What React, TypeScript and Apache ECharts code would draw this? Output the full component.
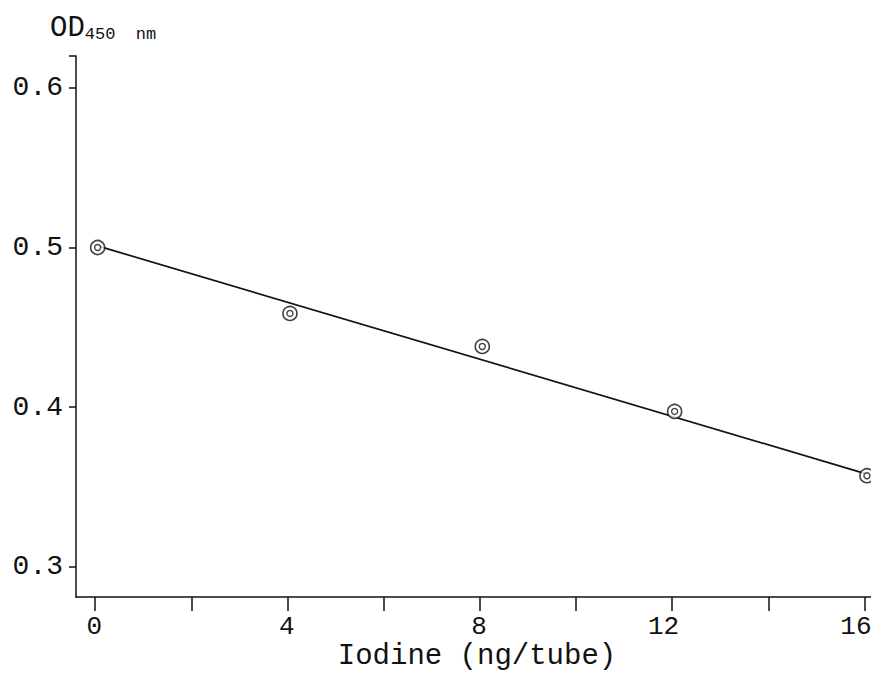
import React, { useEffect, useRef } from "react";
import * as echarts from "echarts";

const iodine = [0.05, 4.05, 8.05, 12.05, 16.05];
const od450 = [0.5, 0.4587, 0.438, 0.3973, 0.357];
const fitX = [0.05, 16.05];
const fitY = [0.501, 0.358];
const xTicks = [0, 2, 4, 6, 8, 10, 12, 14, 16];
const xLabels = [0, 4, 8, 12, 16];
const yTicks = [0.3, 0.4, 0.5, 0.6, 0.62];
const yLabels = [0.3, 0.4, 0.5, 0.6];

const FONT = "'Liberation Mono', 'Courier New', monospace";
const X_MIN = -0.4;
const X_MAX = 16.28;
// label axis shifted so right-aligned labels end ~7px right of their tick
const LABEL_SHIFT = 7 / (802 / (X_MAX - X_MIN));

export default function App() {
  const ref = useRef<HTMLDivElement>(null);
  useEffect(() => {
    if (!ref.current) return;
    const chart = echarts.init(ref.current, null, { renderer: "svg" });
    const pts = iodine.map((x, i) => [x, od450[i]]);
    chart.setOption({
      animation: false,
      backgroundColor: "#fff",
      grid: { left: 76, right: 1, top: 56, bottom: 81, outerBoundsMode: "none", containLabel: false },
      xAxis: [
        {
          type: "value",
          min: X_MIN,
          max: X_MAX,
          name: "Iodine (ng/tube)",
          nameLocation: "middle",
          nameGap: 45,
          nameTextStyle: { fontFamily: FONT, fontSize: 29, color: "#111" },
          axisLine: { show: true, onZero: false, lineStyle: { color: "#111", width: 1.5 } },
          axisTick: {
            show: true,
            customValues: xTicks,
            length: 14,
            lineStyle: { color: "#111", width: 1.5 },
          },
          axisLabel: { show: false },
          splitLine: { show: false },
        },
        {
          type: "value",
          position: "bottom",
          min: X_MIN - LABEL_SHIFT,
          max: X_MAX - LABEL_SHIFT,
          axisLine: { show: false, onZero: false },
          axisTick: { show: false },
          axisLabel: {
            customValues: xLabels,
            fontFamily: FONT,
            fontSize: 26,
            color: "#111",
            margin: 17,
            align: "right",
          },
          splitLine: { show: false },
        },
      ],
      yAxis: {
        type: "value",
        min: 0.281,
        max: 0.62,
        axisLine: { show: true, onZero: false, lineStyle: { color: "#111", width: 1.5 } },
        axisTick: {
          show: true,
          customValues: yTicks,
          length: 7,
          lineStyle: { color: "#111", width: 1.5 },
        },
        axisLabel: {
          customValues: yLabels,
          fontFamily: FONT,
          fontSize: 28,
          color: "#111",
          margin: 13,
          formatter: (v: number) => v.toFixed(1),
        },
        splitLine: { show: false },
      },
      graphic: [
        {
          type: "text",
          left: 50,
          top: 14,
          style: {
            text: "{a|OD}{b|450  nm}",
            rich: {
              a: { fontFamily: FONT, fontSize: 29, fill: "#111", verticalAlign: "bottom" },
              b: { fontFamily: FONT, fontSize: 17, fill: "#111", padding: [14, 0, 0, 0], verticalAlign: "bottom" },
            },
          },
        },
      ],
      series: [
        {
          type: "line",
          data: fitX.map((x, i) => [x, fitY[i]]),
          symbol: "none",
          lineStyle: { color: "#111", width: 1.7 },
          z: 1,
        },
        {
          type: "scatter",
          data: pts,
          symbol: "circle",
          symbolSize: 14,
          itemStyle: { color: "#fff", borderColor: "#111", borderWidth: 1.6 },
          z: 3,
        },
        {
          type: "scatter",
          data: pts,
          symbol: "circle",
          symbolSize: 6,
          itemStyle: { color: "#fff", borderColor: "#111", borderWidth: 1.4 },
          z: 4,
        },
      ],
    });
    return () => chart.dispose();
  }, []);
  return <div ref={ref} style={{ width: 879, height: 678, margin: -8 }} />;
}
